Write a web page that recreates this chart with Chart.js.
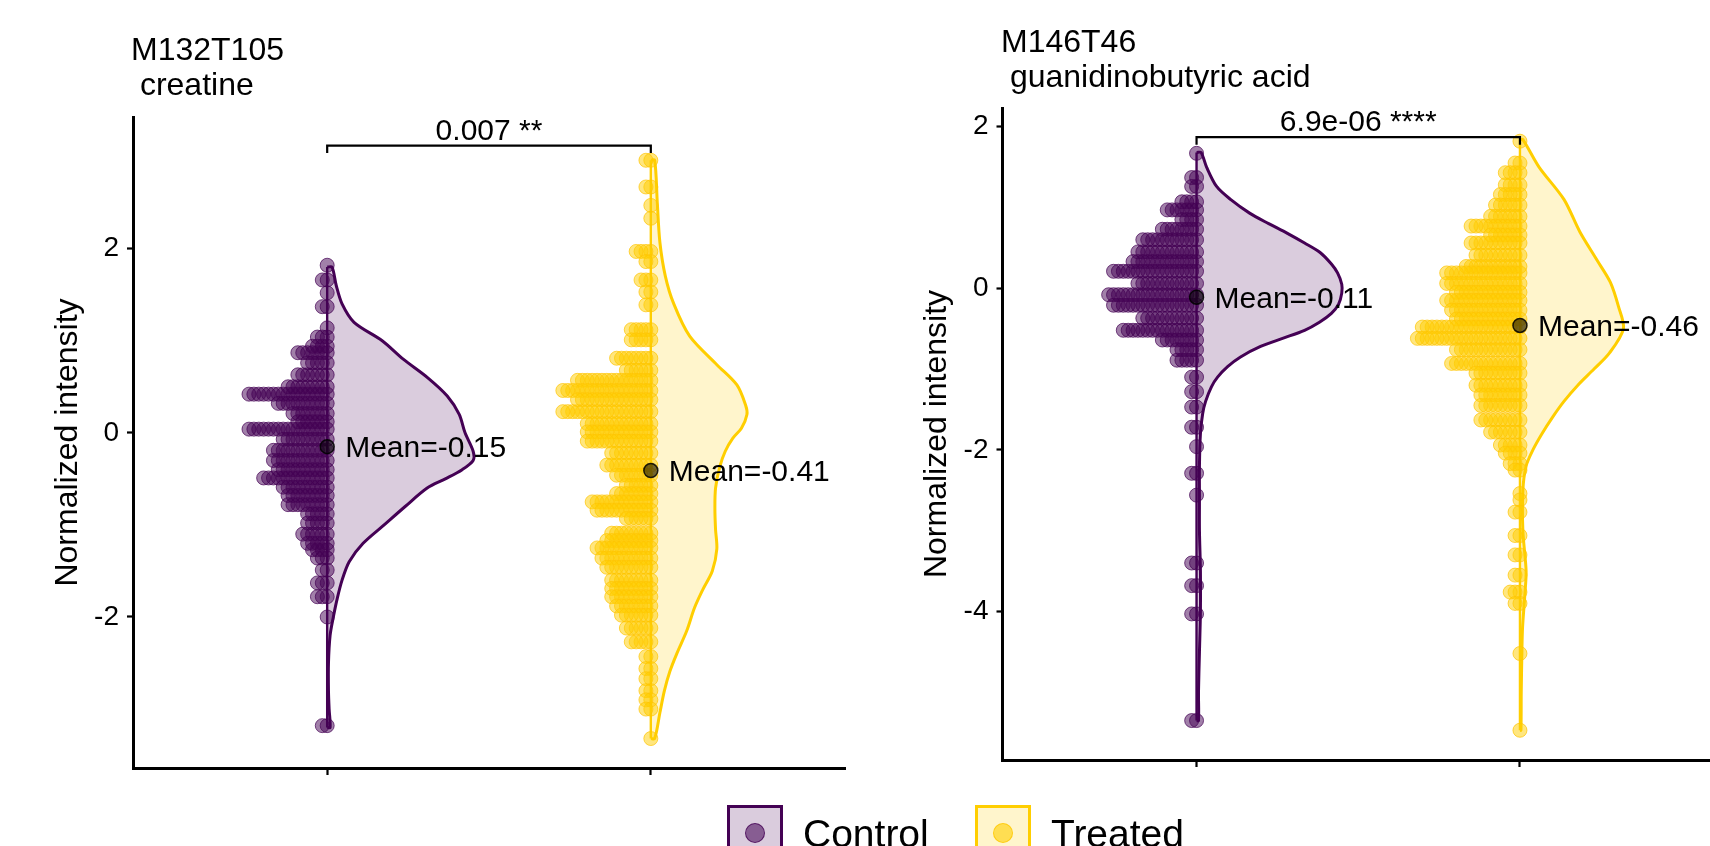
<!DOCTYPE html>
<html>
<head>
<meta charset="utf-8">
<script src="https://cdn.jsdelivr.net/npm/chart.js@4.4.1/dist/chart.umd.min.js"></script>
<style>
    html, body {
        margin: 0;
        padding: 0;
        width: 1710px;
        height: 846px;
        overflow: hidden;
        background: #fff;
        font-family: 'Liberation Sans', Arial, sans-serif;
        color: #000;
    }
    canvas { position: absolute; top: 0; }
    #chartA { left: 0; }
    #chartB { left: 860px; }
    .ptitle {
        position: absolute;
        font-size: 32px;
        line-height: 35px;
        white-space: pre;
    }
    .lg-box {
        position: absolute;
        top: 805px;
        width: 56px;
        height: 56px;
        box-sizing: border-box;
        border: 3px solid;
    }
    .lg-dot {
        position: absolute;
        left: 15px;
        top: 15px;
        width: 18px;
        height: 18px;
        border-radius: 50%;
        border: 1px solid;
    }
    .lg-text {
        position: absolute;
        top: 814px;
        font-size: 39px;
        line-height: 39px;
        white-space: pre;
    }
    .ctrl.lg-box { left: 727px; border-color: #440154; background: #DACCDD; }
    .ctrl .lg-dot { background: rgba(68,1,84,0.55); border-color: rgba(68,1,84,0.75); }
    .trt.lg-box { left: 975px; border-color: #FFCE00; background: #FFF5CC; }
    .trt .lg-dot { background: rgba(255,206,0,0.6); border-color: rgba(255,200,0,0.8); }
</style>
</head>
<body>
<canvas id="chartA" width="860" height="846"></canvas>
<canvas id="chartB" width="880" height="846"></canvas>

<div class="ptitle" style="left:131px;top:32px">M132T105<br> creatine</div>
<div class="ptitle" style="left:1001px;top:24px">M146T46<br> guanidinobutyric acid</div>

<div class="lg-box ctrl"><span class="lg-dot"></span></div>
<div class="lg-text" style="left:803px">Control</div>
<div class="lg-box trt"><span class="lg-dot"></span></div>
<div class="lg-text" style="left:1051px">Treated</div>

<script>
// ===== DATA: M132T105 creatine =====
const ctrlA_rowY = [1.82, 1.66, 1.52, 1.37, 1.14, 1.04, 0.94, 0.87, 0.76, 0.63, 0.5, 0.42, 0.32, 0.21, 0.12, 0.04, -0.07, -0.19, -0.3, -0.4, -0.49, -0.59, -0.68, -0.78, -0.88, -0.98, -1.1, -1.2, -1.27, -1.36, -1.49, -1.63, -1.78, -2.0, -3.18];
const ctrlA_rowN = [1, 2, 1, 2, 1, 3, 4, 7, 5, 7, 9, 17, 11, 8, 7, 17, 10, 12, 12, 11, 14, 10, 9, 9, 5, 5, 6, 5, 4, 3, 2, 3, 3, 1, 2];
const trtA_rowY = [2.96, 2.67, 2.47, 2.33, 1.97, 1.86, 1.66, 1.53, 1.39, 1.12, 1.01, 0.81, 0.68, 0.57, 0.46, 0.36, 0.23, 0.1, 0.01, -0.09, -0.22, -0.35, -0.46, -0.57, -0.66, -0.75, -0.84, -0.93, -1.09, -1.17, -1.25, -1.36, -1.46, -1.6, -1.69, -1.78, -1.88, -1.98, -2.12, -2.27, -2.43, -2.56, -2.67, -2.8, -2.9, -3.0, -3.32];
const trtA_rowN = [2, 2, 1, 1, 4, 2, 3, 2, 2, 5, 5, 8, 6, 16, 19, 16, 19, 14, 14, 14, 9, 10, 8, 6, 8, 13, 12, 6, 9, 10, 12, 11, 10, 9, 9, 9, 8, 7, 6, 5, 2, 2, 2, 2, 2, 2, 1];

// half-violin density (half width, in x units)
const ctrlA_vioY = [1.80, 1.6, 1.4, 1.2, 1.0, 0.8, 0.6, 0.4, 0.2, 0.0, -0.2, -0.3, -0.4, -0.5, -0.6, -0.8, -1.0, -1.2, -1.4, -1.6, -1.8, -2.0, -2.2, -2.5, -2.8, -3.0, -3.2];
const ctrlA_vioW = [0.015, 0.028, 0.046, 0.083, 0.17, 0.235, 0.31, 0.371, 0.408, 0.426, 0.451, 0.451, 0.417, 0.365, 0.309, 0.241, 0.176, 0.111, 0.068, 0.046, 0.031, 0.019, 0.009, 0.004, 0.004, 0.006, 0.009];
const trtA_vioY = [2.96, 2.5, 2.07, 1.7, 1.4, 1.05, 0.74, 0.52, 0.3, 0.2, 0.05, -0.06, -0.2, -0.37, -0.6, -0.82, -1.05, -1.26, -1.5, -1.7, -1.9, -2.15, -2.4, -2.59, -2.8, -3.04, -3.32];
const trtA_vioW = [0.012, 0.02, 0.028, 0.045, 0.071, 0.12, 0.204, 0.266, 0.293, 0.297, 0.28, 0.253, 0.23, 0.213, 0.2, 0.198, 0.2, 0.204, 0.19, 0.161, 0.135, 0.111, 0.08, 0.059, 0.042, 0.028, 0.012];

const meansA = [-0.15, -0.41];
const yTicksA = [-2, 0, 2];
const bracketA = [3.04, 3.12];     // tip, bar
const pLabelA = '0.007 **';

// ===== DATA: M146T46 guanidinobutyric acid =====
const ctrlB_rowY = [1.67, 1.37, 1.26, 1.07, 0.97, 0.85, 0.73, 0.6, 0.45, 0.33, 0.21, 0.06, -0.08, -0.21, -0.37, -0.52, -0.64, -0.76, -0.89, -1.1, -1.28, -1.47, -1.72, -1.96, -2.29, -2.56, -3.4, -3.68, -4.03, -5.35];
const ctrlB_rowN = [1, 2, 2, 4, 7, 4, 8, 12, 13, 14, 18, 13, 19, 18, 12, 16, 8, 5, 5, 2, 2, 2, 2, 1, 2, 1, 2, 2, 2, 2];
const trtB_rowY = [1.82, 1.55, 1.43, 1.28, 1.16, 1.03, 0.89, 0.77, 0.66, 0.56, 0.41, 0.27, 0.19, 0.06, -0.05, -0.15, -0.27, -0.38, -0.48, -0.62, -0.76, -0.93, -1.05, -1.2, -1.32, -1.45, -1.63, -1.78, -1.94, -2.04, -2.17, -2.25, -2.54, -2.62, -2.77, -3.06, -3.3, -3.55, -3.76, -3.9, -4.52, -5.47];
const trtB_rowN = [1, 2, 4, 4, 5, 6, 7, 11, 7, 11, 10, 12, 16, 16, 14, 16, 15, 14, 21, 22, 14, 15, 10, 10, 9, 9, 9, 7, 5, 4, 3, 2, 1, 1, 2, 2, 2, 2, 3, 2, 1, 1];

const ctrlB_vioY = [1.68, 1.5, 1.26, 1.1, 0.93, 0.8, 0.68, 0.56, 0.44, 0.3, 0.19, 0.05, -0.06, -0.2, -0.31, -0.42, -0.52, -0.62, -0.72, -0.85, -0.97, -1.1, -1.22, -1.4, -1.55, -1.8, -2.2, -2.6, -3.0, -3.5, -4.0, -4.5, -5.0, -5.35];
const ctrlB_vioW = [0.014, 0.031, 0.062, 0.105, 0.164, 0.223, 0.281, 0.334, 0.383, 0.417, 0.436, 0.449, 0.449, 0.439, 0.417, 0.38, 0.334, 0.266, 0.198, 0.136, 0.096, 0.065, 0.046, 0.028, 0.019, 0.012, 0.009, 0.009, 0.009, 0.012, 0.012, 0.009, 0.006, 0.006];
const trtB_vioY = [1.84, 1.5, 1.1, 0.7, 0.35, 0.07, -0.23, -0.5, -0.8, -1.0, -1.2, -1.4, -1.6, -1.8, -2.0, -2.2, -2.5, -3.0, -3.5, -3.8, -4.2, -4.5, -5.0, -5.47];
const trtB_vioW = [0.009, 0.059, 0.136, 0.185, 0.238, 0.28, 0.305, 0.32, 0.277, 0.229, 0.179, 0.136, 0.1, 0.068, 0.04, 0.019, 0.009, 0.009, 0.019, 0.015, 0.008, 0.006, 0.004, 0.003];

const meansB = [-0.11, -0.46];
const yTicksB = [-4, -2, 0, 2];
const bracketB = [1.775, 1.87];
const pLabelB = '6.9e-06 ****';

// ===== STYLE =====
const FONT = "'Liberation Sans', Arial, sans-serif";
const lineCol = ['#440154', '#FFCE00'];
const vioFill = ['rgba(68,1,84,0.2)', 'rgba(255,206,0,0.2)'];
const dotFill = ['rgba(68,1,84,0.5)', 'rgba(255,206,0,0.5)'];
const dotEdge = ['rgba(68,1,84,0.7)', 'rgba(255,196,0,0.7)'];
const DOT_STEP = 0.0151;   // horizontal stacking step of dotplot, x units

Chart.defaults.font.family = FONT;

// dotplot: stack each bin leftwards from the group centre
function dotPoints(center, rowY, rowN) {
    const pts = [];
    rowY.forEach((y, r) => {
        for (let i = 0; i < rowN[r]; i++) pts.push({ x: center - i * DOT_STEP, y: y });
    });
    return pts;
}

function violinPoints(center, vY, vW) {
    const pts = [{ x: center, y: vY[0] }];
    vY.forEach((y, i) => pts.push({ x: center + vW[i], y: y }));
    pts.push({ x: center, y: vY[vY.length - 1] });
    return pts;
}

function groupDatasets(g, rowY, rowN, vY, vW, mean) {
    const c = g + 1;
    return [
        {
            type: 'line', indexAxis: 'y',
            data: violinPoints(c, vY, vW),
            borderColor: lineCol[g], borderWidth: 3,
            backgroundColor: vioFill[g],
            fill: { value: c },
            tension: 0.3, pointRadius: 0, order: 6
        },
        {
            type: 'line',
            data: [{ x: c, y: vY[0] }, { x: c, y: vY[vY.length - 1] }],
            borderColor: lineCol[g], borderWidth: 2.4,
            fill: false, pointRadius: 0, order: 5
        },
        {
            type: 'scatter',
            data: dotPoints(c, rowY, rowN),
            pointRadius: 7, backgroundColor: dotFill[g],
            borderColor: dotEdge[g], borderWidth: 1, order: 2
        },
        {
            type: 'scatter',
            data: [{ x: c, y: mean }],
            pointRadius: 7, backgroundColor: 'rgba(0,0,0,0.55)',
            borderColor: 'rgba(0,0,0,0.85)', borderWidth: 1.5, order: 1
        }
    ];
}

// mean labels + p-value text
const annotPlugin = {
    id: 'annot',
    afterDatasetsDraw(chart, args, opts) {
        const { ctx } = chart;
        const x = chart.scales.x, y = chart.scales.y;
        ctx.save();
        ctx.fillStyle = '#000';
        ctx.font = '30px ' + FONT;
        ctx.textAlign = 'left';
        ctx.textBaseline = 'alphabetic';
        opts.means.forEach((m, g) => {
            ctx.fillText('Mean=' + m.toFixed(2), x.getPixelForValue(g + 1) + 18, y.getPixelForValue(m) + 10.6);
        });
        ctx.textAlign = 'center';
        ctx.fillText(opts.pLabel, x.getPixelForValue(1.5), y.getPixelForValue(opts.bracket[1]) - 6);
        ctx.restore();
    }
};

function makePanel(id, p) {
    const datasets = [
        {
            type: 'line',
            data: [{ x: 1, y: p.bracket[0] }, { x: 1, y: p.bracket[1] }, { x: 2, y: p.bracket[1] }, { x: 2, y: p.bracket[0] }],
            borderColor: '#000', borderWidth: 2.2, fill: false, pointRadius: 0, tension: 0, order: 0
        }
    ].concat(
        groupDatasets(0, p.ctrlRowY, p.ctrlRowN, p.ctrlVioY, p.ctrlVioW, p.means[0]),
        groupDatasets(1, p.trtRowY, p.trtRowN, p.trtVioY, p.trtVioW, p.means[1])
    );

    return new Chart(document.getElementById(id), {
        type: 'scatter',
        data: { datasets: datasets },
        plugins: [annotPlugin],
        options: {
            responsive: false,
            animation: false,
            devicePixelRatio: 1,
            events: [],
            layout: { padding: p.padding },
            plugins: {
                legend: { display: false },
                tooltip: { enabled: false },
                annot: { means: p.means, pLabel: p.pLabel, bracket: p.bracket }
            },
            scales: {
                x: {
                    type: 'linear', min: 0.4, max: 2.6,
                    afterBuildTicks: s => { s.ticks = [{ value: 1 }, { value: 2 }]; },
                    afterFit: s => { s.height = 20; },
                    ticks: { callback: () => '', autoSkip: false },
                    grid: { drawOnChartArea: false, drawTicks: true, tickLength: 7, tickWidth: 2.2, tickColor: '#000', color: '#000' },
                    border: { display: true, color: '#000', width: 3 }
                },
                y: {
                    type: 'linear', min: p.yMin, max: p.yMax,
                    afterBuildTicks: s => { s.ticks = p.yTicks.map(v => ({ value: v })); },
                    afterFit: s => { s.width = p.yAxisW; },
                    ticks: { color: '#000', font: { size: 28 }, padding: 8, callback: v => String(v) },
                    grid: { drawOnChartArea: false, drawTicks: true, tickLength: 6, tickWidth: 2.2, tickColor: '#000', color: '#000' },
                    border: { display: true, color: '#000', width: 3 },
                    title: { display: true, text: 'Normalized intensity', color: '#000', font: { size: 32 }, padding: { top: 0, bottom: 0 } }
                }
            }
        }
    });
}

makePanel('chartA', {
    ctrlRowY: ctrlA_rowY, ctrlRowN: ctrlA_rowN, trtRowY: trtA_rowY, trtRowN: trtA_rowN,
    ctrlVioY: ctrlA_vioY, ctrlVioW: ctrlA_vioW, trtVioY: trtA_vioY, trtVioW: trtA_vioW,
    means: meansA, yTicks: yTicksA, bracket: bracketA, pLabel: pLabelA,
    yMin: -3.64, yMax: 3.43,
    padding: { left: 49, top: 117, right: 15, bottom: 58 }, yAxisW: 84
});

makePanel('chartB', {
    ctrlRowY: ctrlB_rowY, ctrlRowN: ctrlB_rowN, trtRowY: trtB_rowY, trtRowN: trtB_rowN,
    ctrlVioY: ctrlB_vioY, ctrlVioW: ctrlB_vioW, trtVioY: trtB_vioY, trtVioW: trtB_vioW,
    means: meansB, yTicks: yTicksB, bracket: bracketB, pLabel: pLabelB,
    yMin: -5.838, yMax: 2.231,
    padding: { left: 58, top: 108, right: 26, bottom: 66 }, yAxisW: 84.5
});
</script>
</body>
</html>
